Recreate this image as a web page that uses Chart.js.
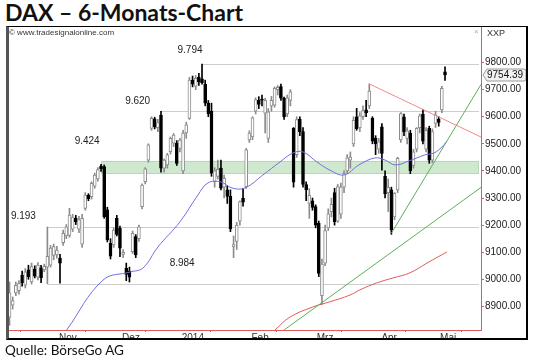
<!DOCTYPE html>
<html><head><meta charset="utf-8">
<script src="https://cdn.jsdelivr.net/npm/chart.js@4.4.1/dist/chart.umd.min.js"></script>
<style>
body{margin:0;width:540px;height:361px;background:#fff;overflow:hidden;position:relative}
#ttl{position:absolute;left:5px;top:1px;font:bold 23px Lato;line-height:23px;color:#111}
#src{position:absolute;left:5px;top:343px;font:13.5px Lato;line-height:14px;color:#111}
#box{position:absolute;left:6px;top:26px;width:522px;height:314px;box-sizing:border-box;border-top:1px solid #000;border-right:2px solid #000;border-bottom:2px solid #000;border-left:3px solid #555;pointer-events:none;z-index:2}
canvas{position:absolute;left:0;top:0}
</style></head><body>
<div id="ttl">DAX – 6-Monats-Chart</div>
<canvas id="c" width="540" height="361"></canvas>
<div id="box"></div>
<div id="src">Quelle: BörseGo AG</div>
<script>
// DAX daily candles, 21.10.2013 - 13.05.2014 (index = trading day)
const O=[8860,8905,8950,8958,9016,8978,9035,8990,9038,
9008,9042,9035,9045,9052,9088,9090,9078,9135,9160,9162,9185,9226,9185,9130,9262,9310,9305,9344,9370,9418,
9416,9256,9133,9127,9225,9188,9092,9041,9030,9102,9158,9150,9268,9360,9440,9557,9592,9560,
9606,9410,9422,9471,9502,9502,9483,9400,9540,9594,9735,9712,9745,9740,9720,9650,9620,9360,9380,9410,9340,9330,
9306,9120,9140,9215,9300,9342,9514,9525,9620,9660,9665,9613,9520,9640,9643,9700,9711,9668,9610,9660,
9557,9460,9590,9545,9350,9280,9290,9268,9207,8940,9060,9190,9250,9320,9215,9240,9340,9400,9440,9500,9600,
9560,9600,9625,9640,9594,9520,9480,9563,9380,9320,9330,9230,9330,9514,9600,9520,9540,9420,9480,9560,
9610,9480,9557,9440,9575,9590,9625,9766];
const H=[8990,8935,8990,8995,9030,9040,9052,9060,9050,
9062,9052,9056,9193,9125,9130,9122,9092,9182,9202,9262,9240,9236,9232,9240,9320,9316,9360,9392,9412,9424,
9422,9266,9150,9190,9236,9196,9110,9060,9045,9178,9165,9200,9352,9412,9500,9600,9598,9590,
9620,9445,9465,9525,9538,9512,9520,9550,9580,9745,9750,9752,9760,9794,9735,9660,9650,9412,9440,9440,9385,9345,
9330,9160,9210,9290,9336,9483,9548,9600,9670,9674,9680,9668,9630,9675,9710,9715,9720,9672,9680,9700,
9560,9600,9600,9560,9360,9335,9300,9275,9215,9075,9200,9260,9300,9336,9350,9355,9400,9460,9470,9600,9631,
9615,9640,9660,9721,9600,9530,9520,9575,9400,9370,9340,9320,9450,9615,9610,9560,9550,9480,9560,9610,
9625,9560,9565,9555,9620,9600,9712,9784];
const L=[8830,8890,8940,8945,8975,8968,9000,8982,9005,
8998,8988,9028,8984,9045,9072,9078,8986,9125,9150,9155,9176,9202,9172,9118,9255,9290,9296,9336,9362,9398,
9225,9138,9075,9118,9160,9084,9080,8995,8990,9095,9080,9140,9260,9352,9432,9550,9555,9545,
9395,9395,9410,9462,9490,9420,9470,9390,9520,9590,9710,9700,9715,9720,9640,9600,9380,9340,9370,9330,9300,9280,
9176,9080,9110,9200,9270,9335,9505,9515,9610,9630,9640,9540,9505,9620,9635,9680,9660,9590,9600,9640,
9340,9450,9530,9340,9290,9225,9255,9190,9010,8907,9050,9180,9230,9200,9210,9225,9320,9390,9410,9490,9550,
9545,9590,9600,9630,9500,9460,9465,9403,9300,9250,9166,9220,9320,9505,9530,9500,9390,9410,9470,9540,
9500,9470,9428,9430,9560,9565,9615,9734];
const C=[8950,8922,8978,8985,8988,9028,9010,9047,9012,
9053,9006,9048,9085,9115,9121,9108,9060,9170,9194,9237,9230,9212,9220,9225,9311,9298,9354,9385,9405,9408,
9231,9145,9085,9182,9166,9115,9100,9018,9008,9170,9090,9194,9348,9408,9496,9594,9562,9578,
9410,9440,9459,9520,9532,9428,9514,9540,9570,9735,9720,9742,9728,9725,9650,9610,9392,9400,9406,9336,9373,9306,
9186,9128,9200,9287,9285,9478,9540,9596,9663,9645,9661,9660,9618,9660,9705,9708,9668,9600,9670,9692,
9358,9589,9545,9350,9330,9310,9265,9200,9022,9056,9180,9242,9277,9213,9342,9340,9390,9448,9451,9587,9556,
9603,9623,9615,9695,9510,9500,9507,9465,9315,9339,9182,9317,9446,9612,9544,9548,9401,9470,9557,9603,
9510,9550,9440,9545,9607,9579,9705,9754.39];

// indicators (x = trading day index)
const MA_BLUE_X=[18.1,29.6,38.2,42.3,47.0,54.0,59.7,62.9,67.0,70.5,74.6,80.3,85.7,89.8,93.0,97.4,101.5,106.0,110.7,115.8,119.0,122.2,126.6,131.6,134.5,137.0,138.6];
const MA_BLUE_Y=[8813,8997,9027,9042,9119,9212,9311,9356,9359,9337,9337,9385,9433,9466,9470,9433,9403,9385,9422,9448,9440,9422,9437,9459,9466,9488,9510];
const MA_RED_X=[84.1,88.9,96.1,101.5,107.9,111.0,116.4,121.5,126.9,132.3,138.6];
const MA_RED_Y=[8813,8861,8898,8917,8942,8961,8987,9005,9024,9060,9101];
const TREND_RED=[[114,9721],[149.4,9525]];
const TREND_UP=[[121,9170],[149.4,9719]];
const TREND_LOW=[[87,8813],[149.4,9339]];

// marked levels: value, start index, label and label anchor
const LEVELS=[[9794,60.9],[9620,47.7],[9193,12],[8984,12]];
const BAND=[9392,9437,29];
const LEVEL_TXT=[["9.794",57.2,9846],["9.620",40.6,9656],["9.424",24.6,9510],["9.193",4.4,9232],["8.984",54.7,9060]];

const MONTH_LBL=["Nov","Dez","2014","Feb","Mrz","Apr","Mai"];
const MONTH_POS=[18.5,38.5,58.1,79.4,100,120.3,139];
const MONTH_EDGE=[8.5,29.5,47.5,69.5,89.5,110.5,130.5];
const Y_TICKS=[8900,9000,9100,9200,9300,9400,9500,9600,9700,9800];
const LAST=C[C.length-1];

const idx=O.map((_,i)=>i);
const up=i=>C[i]>=O[i];
const pts=(xs,ys)=>xs.map((x,i)=>({x,y:ys[i]}));
const seg=a=>a.map(p=>({x:p[0],y:p[1]}));
const F='"Liberation Sans",Arial,sans-serif';

const deco={id:"deco",
  beforeDatasetsDraw(ch){
    const g=ch.ctx,x=ch.scales.x,y=ch.scales.y,a=ch.chartArea;
    g.save();g.beginPath();g.rect(a.left,a.top,a.right-a.left,a.bottom-a.top);g.clip();
    // support band 9.424
    const bx=x.getPixelForValue(BAND[2]),b1=y.getPixelForValue(BAND[1]),b0=y.getPixelForValue(BAND[0]);
    g.fillStyle="rgba(160,212,160,0.5)";g.fillRect(bx,b1,a.right-bx-2,b0-b1);
    g.strokeStyle="#b4d9b4";g.lineWidth=1;g.strokeRect(bx+.5,Math.round(b1)+.5,a.right-bx-3,Math.round(b0-b1));
    g.strokeStyle="#cdcdcd";
    LEVELS.forEach(([v,f])=>{const py=Math.round(y.getPixelForValue(v))+.5;g.beginPath();g.moveTo(x.getPixelForValue(f),py);g.lineTo(a.right-2,py);g.stroke()});
    g.fillStyle="#222";g.font="10px "+F;g.textAlign="center";g.textBaseline="middle";
    LEVEL_TXT.forEach(([t,i,v])=>g.fillText(t,x.getPixelForValue(i),y.getPixelForValue(v)));
    g.restore();
  },
  afterDraw(ch){
    const g=ch.ctx,y=ch.scales.y,a=ch.chartArea;
    g.save();
    g.fillStyle="#333";g.font="8px "+F;g.textBaseline="middle";g.textAlign="left";
    g.fillText("© www.tradesignalonline.com",a.left+1,a.top+6);
    g.font="9px "+F;g.fillText("XXP",a.right+6,a.top+7);
    g.fillStyle="#aaa";g.font="8px "+F;g.fillText("×",a.right-7,a.top+5);
    // last price box
    const py=Math.round(y.getPixelForValue(LAST)),bl=a.right+2,br=a.right+45;
    g.beginPath();g.moveTo(bl,py);g.lineTo(bl+4,py-6);g.lineTo(br-2,py-6);g.quadraticCurveTo(br,py-6,br,py-4);g.lineTo(br,py+4);g.quadraticCurveTo(br,py+6,br-2,py+6);g.lineTo(bl+4,py+6);g.closePath();
    g.fillStyle="#f2f2f2";g.fill();g.strokeStyle="#9a9a9a";g.lineWidth=1;g.stroke();
    g.fillStyle="#111";g.font="10px "+F;g.fillText(LAST.toFixed(2),a.right+6,py+.5);
    g.restore();
  }};

new Chart(document.getElementById("c"),{type:"bar",
  data:{datasets:[
    {type:"line",data:seg(TREND_UP),borderColor:"#5caf5c",borderWidth:1,pointRadius:0,order:0},
    {type:"line",data:seg(TREND_LOW),borderColor:"#5caf5c",borderWidth:1,pointRadius:0,order:0},
    {type:"line",data:seg(TREND_RED),borderColor:"#f08a8a",borderWidth:1,pointRadius:0,order:0},
    {type:"line",data:pts(MA_BLUE_X,MA_BLUE_Y),borderColor:"#6f6fe0",borderWidth:1,pointRadius:0,tension:.4,order:0},
    {type:"line",data:pts(MA_RED_X,MA_RED_Y),borderColor:"#e45a5a",borderWidth:1,pointRadius:0,tension:.4,order:0},
    {data:idx.map(i=>({x:i,y:[Math.min(O[i],C[i]),Math.max(O[i],C[i])]})),backgroundColor:c=>up(c.dataIndex)?"#fff":"#000",borderColor:c=>up(c.dataIndex)?"#8c8c8c":"#000",borderWidth:1,borderSkipped:false,barThickness:3,minBarLength:1,grouped:false,order:1},
    {data:idx.map(i=>({x:i,y:[L[i],H[i]]})),backgroundColor:c=>up(c.dataIndex)?"#8c8c8c":"#000",barThickness:1,grouped:false,order:2}
  ]},
  options:{responsive:false,animation:false,devicePixelRatio:1,
    layout:{padding:{left:8,top:27,right:13,bottom:22}},
    plugins:{legend:{display:false},tooltip:{enabled:false}},
    scales:{
      x:{type:"linear",min:-0.48,max:149.4,offset:false,
        afterBuildTicks:s=>{s.ticks=[...MONTH_EDGE,...MONTH_POS].sort((p,q)=>p-q).map(v=>({value:v}))},
        ticks:{autoSkip:false,maxRotation:0,padding:0,color:"#333",font:{size:10,family:F},callback:v=>{const k=MONTH_POS.indexOf(v);return k<0?"":MONTH_LBL[k]}},
        grid:{drawOnChartArea:false,tickLength:2,tickColor:c=>MONTH_POS.includes(c.tick&&c.tick.value)?"rgba(0,0,0,0)":"#777"},
        border:{color:"#e05a5a"},afterFit:s=>{s.height=9}},
      y:{position:"right",min:8813,max:9931,
        afterBuildTicks:s=>{s.ticks=Y_TICKS.map(v=>({value:v}))},
        ticks:{autoSkip:false,padding:1,color:"#222",font:{size:10,family:F},callback:v=>v.toFixed(2)},
        grid:{drawOnChartArea:false,tickLength:3,tickColor:"#e05a5a"},
        border:{color:"#e05a5a"},afterFit:s=>{s.width=46}}
    }},
  plugins:[deco]});
</script>
</body></html>
